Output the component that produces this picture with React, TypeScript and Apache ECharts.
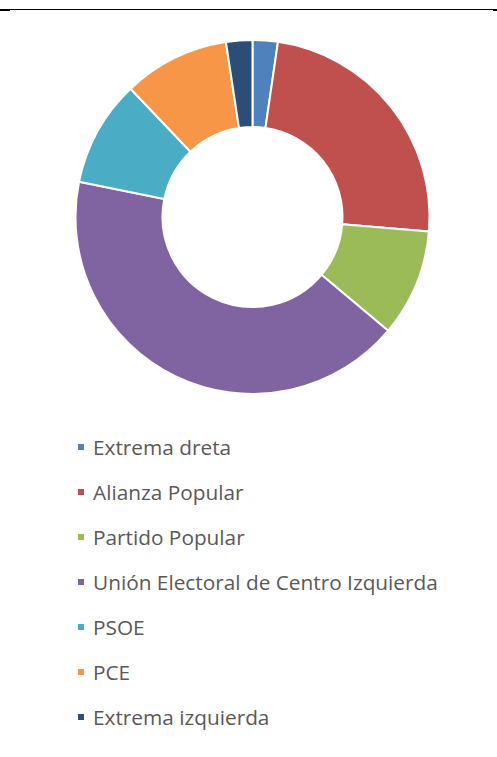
import React, { useEffect, useRef } from "react";
import * as echarts from "echarts";

const categories = [
  "Extrema dreta",
  "Alianza Popular",
  "Partido Popular",
  "Unión Electoral de Centro Izquierda",
  "PSOE",
  "PCE",
  "Extrema izquierda",
];
const values = [2.3, 24.0, 9.8, 42.1, 9.7, 9.7, 2.4];
const colors = ["#4F81BD", "#C0504D", "#9BBB59", "#8064A2", "#4BACC6", "#F79646", "#2C4D75"];

export default function App() {
  const ref = useRef<HTMLDivElement>(null);
  useEffect(() => {
    if (!ref.current) return;
    const chart = echarts.init(ref.current, undefined, { renderer: "svg" });
    chart.setOption({
      animation: false,
      backgroundColor: "#ffffff",
      color: colors,
      graphic: [
        { type: "line", shape: { x1: 0, y1: 9.5, x2: 497, y2: 9.5 }, style: { stroke: "#000", lineWidth: 1 } },
        { type: "rect", shape: { x: 0, y: 9, width: 10, height: 2 }, style: { fill: "#000" } },
        { type: "rect", shape: { x: 493, y: 9, width: 4, height: 2 }, style: { fill: "#000" } },
      ],
      legend: {
        orient: "vertical",
        left: 71,
        top: 431,
        itemWidth: 8,
        itemHeight: 8,
        itemGap: 23,
        icon: "rect",
        textStyle: {
          fontFamily: "Open Sans",
          fontSize: 20.8,
          lineHeight: 22,
          color: "#595959",
          padding: [0, 0, 0, 3],
        },
        data: categories,
      },
      series: [
        {
          type: "pie",
          center: [252.5, 217],
          radius: [90, 177],
          startAngle: 90,
          clockwise: true,
          label: { show: false },
          labelLine: { show: false },
          itemStyle: { borderColor: "#ffffff", borderWidth: 2 },
          emphasis: { disabled: true },
          data: categories.map((name, i) => ({ name, value: values[i] })),
        },
      ],
    });
    return () => chart.dispose();
  }, []);
  return (
    <div
      ref={ref}
      style={{ position: "absolute", left: 0, top: 0, width: 497, height: 757 }}
    />
  );
}
